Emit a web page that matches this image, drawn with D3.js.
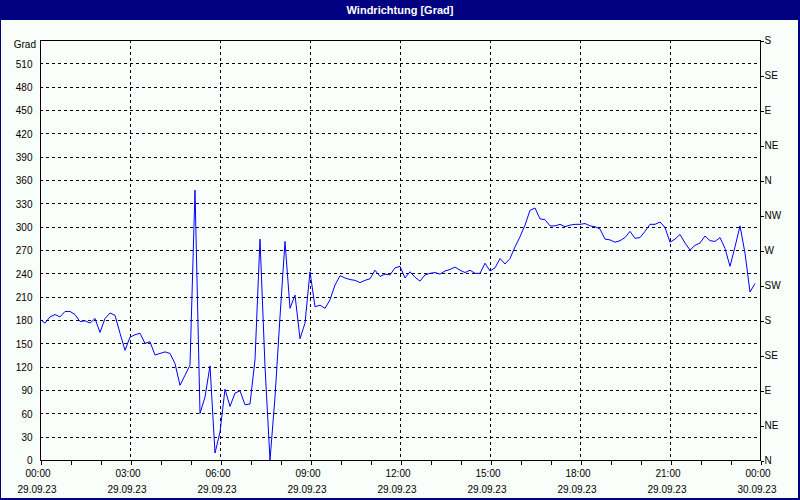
<!DOCTYPE html>
<html>
<head>
<meta charset="utf-8">
<script src="https://cdn.jsdelivr.net/npm/d3@7"></script>
<style>
    body { margin: 0; background: #fff; }
    svg text { font-family: "Liberation Sans", Arial, sans-serif; font-size: 10px; fill: #000; }
</style>
</head>
<body>
<script>
const chartTitle = 'Windrichtung [Grad]'
const unitLabel = 'Grad'
const startTime = new Date(2023, 8, 29, 0, 0)
const endTime = new Date(2023, 8, 30, 0, 0)
const stepMinutes = 10

// wind direction every 10 minutes, 00:00 .. 23:50
const values = [
    181, 176, 184, 187, 184, 191, 191, 187, 178, 179, 176, 182,
    164, 182, 189, 186, 163, 141, 158, 161, 163, 150, 152, 135,
    137, 139, 137, 124, 96, 109, 122, 347, 60, 81, 121, 9,
    36, 91, 69, 86, 89, 71, 72, 129, 284, 120, 0, 81,
    184, 281, 195, 212, 156, 176, 242, 197, 199, 195, 206, 225,
    237, 234, 232, 231, 228, 231, 233, 244, 236, 239, 238, 247,
    249, 234, 242, 235, 230, 238, 240, 241, 239, 243, 245, 248,
    244, 241, 244, 240, 240, 253, 243, 247, 259, 252, 259, 274,
    287, 302, 321, 324, 310, 309, 301, 301, 303, 300, 302, 303,
    303, 304, 301, 300, 297, 284, 283, 280, 282, 286, 294, 285,
    286, 294, 303, 303, 306, 299, 280, 284, 290, 279, 270, 276,
    279, 288, 282, 281, 286, 272, 249, 274, 301, 266, 216, 227
]

const leftTicks = [0, 30, 60, 90, 120, 150, 180, 210, 240, 270, 300, 330, 360, 390, 420, 450, 480, 510]
const rightTicks = [0, 45, 90, 135, 180, 225, 270, 315, 360, 405, 450, 495, 540]
const rightLabels = ['N', 'NE', 'E', 'SE', 'S', 'SW', 'W', 'NW', 'N', 'NE', 'E', 'SE', 'S']
const timeLabels = ['00:00', '03:00', '06:00', '09:00', '12:00', '15:00', '18:00', '21:00', '00:00']
const dateLabels = ['29.09.23', '29.09.23', '29.09.23', '29.09.23', '29.09.23', '29.09.23', '29.09.23', '29.09.23', '30.09.23']

const w = 800
const h = 500
const pLeft = 40, pRight = 760, pTop = 40, pBottom = 460
const bg = '#fafefa'
const navy = '#000080'

const svg = d3.select('body')
    .append('svg')
    .attr('width', w)
    .attr('height', h)

// frame and title bar
svg.append('rect').attr('width', w).attr('height', h).attr('fill', navy)
svg.append('rect')
    .attr('x', 1).attr('y', 20)
    .attr('width', w - 3).attr('height', h - 22)
    .attr('fill', bg)
svg.append('text')
    .attr('x', w / 2).attr('y', 14)
    .attr('text-anchor', 'middle')
    .style('fill', '#fff')
    .style('font-weight', 'bold')
    .style('font-size', '11px')
    .text(chartTitle)

const x = d3.scaleTime().domain([startTime, endTime]).range([pLeft, pRight])
const y = d3.scaleLinear().domain([0, 540]).range([pBottom, pTop])

const majorTimes = d3.timeHour.every(3).range(startTime, d3.timeHour.offset(endTime, 1))
const minorTimes = d3.timeHour.every(1).range(startTime, d3.timeHour.offset(endTime, 1))

// dashed grid
const grid = svg.append('g')
    .attr('stroke', '#000')
    .attr('stroke-dasharray', '3,3')
    .attr('shape-rendering', 'crispEdges')
grid.selectAll('.hgrid')
    .data(leftTicks.filter(d => d > 0))
    .enter().append('line')
    .attr('x1', pLeft).attr('x2', pRight)
    .attr('y1', d => Math.round(y(d)) + 0.5)
    .attr('y2', d => Math.round(y(d)) + 0.5)
grid.selectAll('.vgrid')
    .data(majorTimes.slice(1, -1))
    .enter().append('line')
    .attr('y1', pTop).attr('y2', pBottom)
    .attr('x1', d => Math.round(x(d)) + 0.5)
    .attr('x2', d => Math.round(x(d)) + 0.5)

// plot box
svg.append('rect')
    .attr('x', pLeft + 0.5).attr('y', pTop + 0.5)
    .attr('width', pRight - pLeft).attr('height', pBottom - pTop)
    .attr('fill', 'none')
    .attr('stroke', '#000')
    .attr('shape-rendering', 'crispEdges')

// axes
const yLeft = svg.append('g')
    .attr('transform', `translate(${pLeft + 0.5},0.5)`)
    .call(d3.axisLeft(y).tickValues(leftTicks).tickSize(0).tickPadding(8).tickFormat(d3.format('d')))
yLeft.select('.domain').remove()
yLeft.attr('font-family', null).attr('font-size', null)

svg.append('text')
    .attr('x', 36).attr('y', y(540) + 5)
    .attr('dy', '0.32em')
    .attr('text-anchor', 'end')
    .text(unitLabel)

const yRight = svg.append('g')
    .attr('transform', `translate(${pRight + 0.5},0.5)`)
    .call(d3.axisRight(y).tickValues(rightTicks).tickSize(3).tickPadding(1).tickFormat((d, i) => rightLabels[i]))
yRight.select('.domain').remove()
yRight.attr('font-family', null).attr('font-size', null)
yRight.selectAll('line').attr('shape-rendering', 'crispEdges')

const xAxis = svg.append('g')
    .attr('transform', `translate(0.5,${pBottom + 0.5})`)
    .call(d3.axisBottom(x).tickValues(minorTimes).tickSize(4).tickFormat(''))
xAxis.select('.domain').remove()
xAxis.selectAll('line').attr('shape-rendering', 'crispEdges')

const xLabels = svg.append('g').attr('text-anchor', 'middle')
xLabels.selectAll('.time')
    .data(majorTimes)
    .enter().append('text')
    .attr('x', d => x(d) - 2)
    .attr('y', 477)
    .text((d, i) => timeLabels[i])
xLabels.selectAll('.date')
    .data(majorTimes)
    .enter().append('text')
    .attr('x', d => x(d) - 3)
    .attr('y', 493)
    .text((d, i) => dateLabels[i])

// wind direction line
const line = d3.line()
    .x((d, i) => x(d3.timeMinute.offset(startTime, i * stepMinutes)))
    .y(d => y(d))

svg.append('path')
    .datum(values)
    .attr('fill', 'none')
    .attr('stroke', '#0000ff')
    .attr('stroke-width', 1)
    .attr('d', line)
</script>
</body>
</html>
